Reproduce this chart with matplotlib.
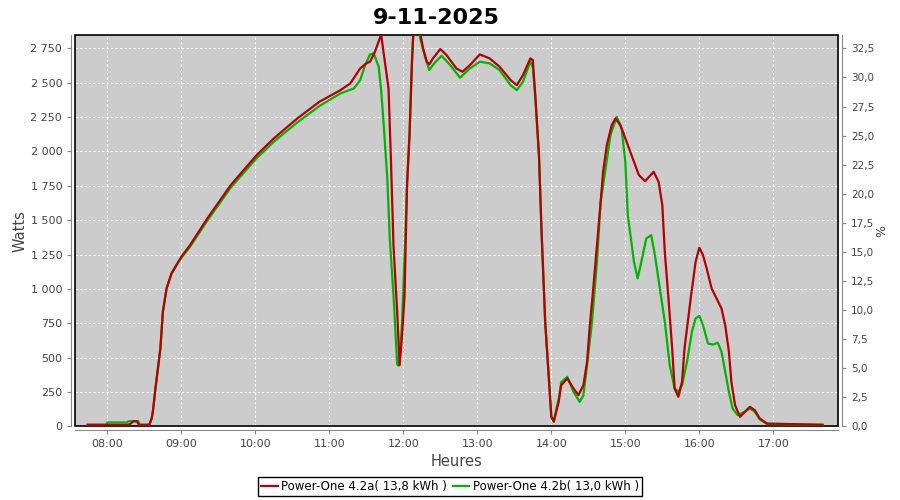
import numpy as np
import matplotlib.pyplot as plt
from matplotlib.patches import Rectangle
from matplotlib.ticker import FuncFormatter, MultipleLocator
from matplotlib.transforms import offset_copy

# Power-One 4.2a (red)
red_times = ['07:44', '08:17', '08:19', '08:21', '08:24', '08:25', '08:26', '08:34', '08:36', '08:37',
             '08:39', '08:43', '08:45', '08:48', '08:52', '08:56', '09:00', '09:07', '09:21', '09:40',
             '10:01', '10:15', '10:34', '10:52', '11:09', '11:17', '11:25', '11:30', '11:33', '11:37',
             '11:42', '11:45', '11:48', '11:50', '11:52', '11:55', '11:57', '11:59', '12:01', '12:03',
             '12:05', '12:07', '12:08', '12:10', '12:12', '12:14', '12:16', '12:19', '12:21', '12:24',
             '12:30', '12:35', '12:43', '12:48', '12:54', '13:02', '13:10', '13:18', '13:27', '13:32',
             '13:37', '13:43', '13:45', '13:47', '13:50', '13:52', '13:55', '13:58', '14:00', '14:02',
             '14:06', '14:08', '14:13', '14:18', '14:22', '14:26', '14:29', '14:31', '14:34', '14:37',
             '14:40', '14:42', '14:45', '14:49', '14:52', '14:56', '15:01', '15:07', '15:11', '15:16',
             '15:23', '15:27', '15:30', '15:32', '15:35', '15:38', '15:40', '15:43', '15:46', '15:48',
             '15:53', '15:57', '16:00', '16:03', '16:06', '16:10', '16:14', '16:18', '16:21', '16:24',
             '16:26', '16:29', '16:33', '16:37', '16:41', '16:45', '16:49', '16:55', '17:40']
red_watts = [0, 0, 9, 26, 26, 9, 0, 0, 48, 104,
             264, 556, 822, 992, 1101, 1162, 1223, 1307, 1501, 1744,
             1962, 2084, 2229, 2351, 2435, 2484, 2593, 2630, 2642, 2715,
             2840, 2642, 2448, 1914, 1307, 822, 434, 652, 943, 1744,
             2108, 2642, 2835, 2950, 2950, 2835, 2739, 2642, 2622, 2666,
             2734, 2690, 2593, 2569, 2617, 2695, 2666, 2606, 2508, 2471,
             2544, 2666, 2654, 2399, 1962, 1429, 750, 337, 58, 22,
             167, 288, 337, 264, 216, 288, 458, 701, 992, 1307,
             1623, 1841, 2035, 2181, 2229, 2181, 2060, 1914, 1817, 1773,
             1841, 1768, 1598, 1259, 919, 555, 264, 204, 313, 555,
             919, 1186, 1288, 1234, 1137, 992, 919, 846, 725, 531,
             313, 143, 58, 95, 131, 106, 46, 9, 0]

# Power-One 4.2b (green)
green_times = ['07:44', '07:59', '08:00', '08:16', '08:17', '08:25', '08:26', '08:34', '08:36', '08:37',
               '08:39', '08:43', '08:45', '08:48', '08:52', '08:56', '09:00', '09:07', '09:21', '09:40',
               '10:01', '10:15', '10:34', '10:52', '11:09', '11:20', '11:25', '11:29', '11:33', '11:36',
               '11:40', '11:42', '11:44', '11:47', '11:49', '11:52', '11:55', '11:56', '11:57', '11:59',
               '12:01', '12:03', '12:05', '12:07', '12:08', '12:10', '12:12', '12:14', '12:18', '12:21',
               '12:25', '12:31', '12:38', '12:46', '12:54', '13:02', '13:10', '13:18', '13:27', '13:32',
               '13:37', '13:43', '13:45', '13:47', '13:50', '13:52', '13:55', '13:58', '14:00', '14:02',
               '14:06', '14:08', '14:13', '14:18', '14:23', '14:26', '14:29', '14:33', '14:37', '14:40',
               '14:44', '14:48', '14:53', '14:57', '15:00', '15:02', '15:07', '15:10', '15:13', '15:17',
               '15:21', '15:24', '15:28', '15:32', '15:36', '15:40', '15:43', '15:46', '15:50', '15:54',
               '15:57', '16:00', '16:03', '16:07', '16:11', '16:15', '16:18', '16:21', '16:24', '16:27',
               '16:31', '16:37', '16:41', '16:45', '16:49', '16:55', '17:40']
green_watts = [0, 0, 17, 17, 26, 26, 0, 0, 48, 104,
               264, 556, 822, 992, 1101, 1162, 1215, 1295, 1485, 1725,
               1940, 2060, 2200, 2320, 2411, 2448, 2508, 2617, 2695, 2702,
               2606, 2435, 2193, 1790, 1356, 943, 440, 430, 470, 751,
               1234, 1744, 2108, 2642, 2835, 2950, 2900, 2800, 2666, 2581,
               2630, 2685, 2617, 2525, 2593, 2642, 2630, 2581, 2471, 2435,
               2496, 2642, 2600, 2380, 1950, 1420, 750, 337, 58, 30,
               190, 310, 349, 240, 167, 216, 434, 750, 1186, 1623,
               1865, 2108, 2241, 2156, 1914, 1526, 1186, 1065, 1186, 1356,
               1380, 1234, 992, 750, 434, 264, 240, 288, 458, 677,
               774, 793, 725, 592, 584, 597, 531, 386, 240, 119,
               70, 95, 119, 95, 40, 5, 0]

hour_ticks = list(range(8, 18))
title = '9-11-2025'


def to_hours(times):
    return [int(t[:2]) + int(t[3:]) / 60 for t in times]


w_top = 2845
pct_per_watt = 32.5 / 2750

fig = plt.figure(figsize=(9, 5), dpi=100)
ax = fig.add_axes([0.0837, 0.1474, 0.8473, 0.7820])
ax.set_facecolor('#cccccc')

# frame under the lines so the zero stretches stay visible
ax.add_patch(Rectangle((0, 0), 1, 1, transform=ax.transAxes, fill=False,
                       ec='black', lw=1.2, zorder=2.5, clip_on=False))
lift = offset_copy(ax.transData, fig=fig, x=0, y=1.5, units='dots')  # lines sit just above the frame
ax.plot(to_hours(green_times), green_watts, color='#00b400', lw=1.6, zorder=3, transform=lift,
        label='Power-One 4.2b( 13,0 kWh )')
ax.plot(to_hours(red_times), red_watts, color='#b40000', lw=1.6, zorder=4, transform=lift,
        label='Power-One 4.2a( 13,8 kWh )')

ax.set_xlim(7.567, 17.873)
ax.set_ylim(0, w_top)
ax.set_xticks(hour_ticks)
ax.set_xticklabels(['%02d:00' % h for h in hour_ticks])
ax.yaxis.set_major_locator(MultipleLocator(250))
ax.yaxis.set_major_formatter(FuncFormatter(lambda v, p: f'{int(v):,}'.replace(',', ' ')))
ax.grid(True, color='white', ls=(0, (2, 2)), lw=0.8)

for s in ['top', 'right']:
    ax.spines[s].set_visible(False)
for s in ['left', 'bottom']:
    ax.spines[s].set_position(('outward', 3))
    ax.spines[s].set_color('#888888')
ax.tick_params(colors='#888888', labelcolor='#444444', labelsize=8, length=3, width=0.8)

ax.set_ylabel('Watts', fontsize=10.5, color='#444444', labelpad=2)
ax.set_xlabel('Heures', fontsize=10.5, color='#444444', labelpad=3)

ax2 = ax.twinx()
ax2.set_ylim(0, w_top * pct_per_watt)
ax2.yaxis.set_major_locator(MultipleLocator(2.5))
ax2.yaxis.set_major_formatter(FuncFormatter(lambda v, p: f'{v:.1f}'.replace('.', ',')))
for s in ['top', 'left', 'bottom']:
    ax2.spines[s].set_visible(False)
ax2.spines['right'].set_position(('outward', 3))
ax2.spines['right'].set_color('#888888')
ax2.tick_params(colors='#888888', labelcolor='#444444', labelsize=7.5, length=3, width=0.8)
ax2.set_ylabel('%', fontsize=9, color='#444444', labelpad=1)

fig.suptitle(title, fontsize=16, fontweight='bold', x=0.485, y=0.985)

handles, labels = ax.get_legend_handles_labels()
fig.legend(handles[::-1], labels[::-1], loc='lower center', bbox_to_anchor=(0.5, -0.004), ncol=2,
           fontsize=8.5, frameon=True, fancybox=False, edgecolor='black', framealpha=1,
           handlelength=1.4, handletextpad=0.3, columnspacing=0.5, borderpad=0.25)

fig.savefig('out.png', dpi=100)
